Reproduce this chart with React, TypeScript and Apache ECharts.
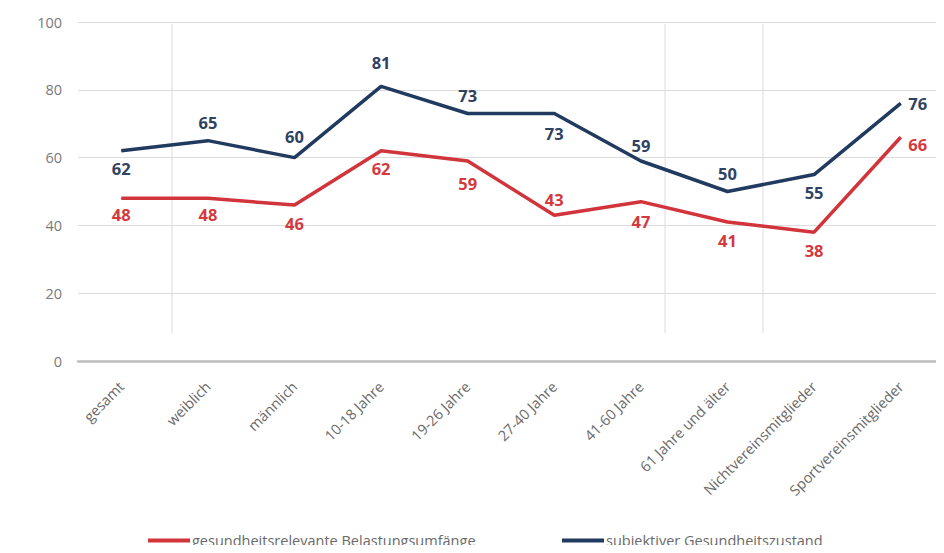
import React, { useEffect, useRef } from "react";
import * as echarts from "echarts";

const categories = [
  "gesamt",
  "weiblich",
  "männlich",
  "10-18 Jahre",
  "19-26 Jahre",
  "27-40 Jahre",
  "41-60 Jahre",
  "61 Jahre und älter",
  "Nichtvereinsmitglieder",
  "Sportvereinsmitglieder",
];
const belastung = [48, 48, 46, 62, 59, 43, 47, 41, 38, 66];
const gesundheit = [62, 65, 60, 81, 73, 73, 59, 50, 55, 76];
const yTicks = [0, 20, 40, 60, 80, 100];
const seriesNames = [
  "gesundheitsrelevante Belastungsumfänge",
  "subjektiver Gesundheitszustand",
];

const RED = "#d1343a";
const NAVY = "#213a5f";
const FONT = "'Open Sans', sans-serif";

// label placement (style, not data)
const redPos = ["bottom", "bottom", "bottom", "bottom", "bottom", "top", "bottom", "bottom", "bottom", "right"];
const navyPos = ["bottom", "top", "top", "top", "top", "bottom", "top", "top", "bottom", "right"];
const redOff = [[0, -2], [0, -2], [0, 0], [0, 0], [0, 5], [0, 2], [0, 2], [0, 0], [0, 0], [0, 7]];
const navyOff = [[0, 0], [0, 0], [0, -3], [0, -6], [0, 0], [0, 2], [0, 3], [0, 0], [0, 0], [0, 0]];

function buildData(values: number[], pos: string[], off: number[][], color: string) {
  return values.map((v, i) => {
    const p = pos[i];
    return {
      value: v,
      label: {
        show: true,
        position: p,
        distance: p === "right" ? 7 : 9,
        offset: off[i],
        color,
        fontWeight: "bold",
        fontSize: 16.5,
        fontFamily: FONT,
      },
    };
  });
}

export default function App() {
  const ref = useRef<HTMLDivElement>(null);
  useEffect(() => {
    if (!ref.current) return;
    const chart = echarts.init(ref.current, null, { renderer: "svg" });
    const redData = buildData(belastung, redPos, redOff, "#d4393e");
    const navyData = buildData(gesundheit, navyPos, navyOff, "#2f4262");
    const legendCommon = {
      top: 533,
      padding: 0,
      itemWidth: 42,
      itemHeight: 4,
      icon: "rect",
      textStyle: { color: "#6a6a6a", fontSize: 14.5, fontFamily: FONT, padding: [0, 0, 0, -3] },
    };
    chart.setOption({
      animation: false,
      backgroundColor: "#ffffff",
      textStyle: { fontFamily: FONT },
      grid: { left: 78, top: 22, width: 873, height: 339, containLabel: false },
      legend: [
        { ...legendCommon, left: 148, data: [seriesNames[0]] },
        { ...legendCommon, left: 562, data: [seriesNames[1]] },
      ],
      xAxis: {
        type: "category",
        data: categories,
        boundaryGap: true,
        axisLine: { show: true, lineStyle: { color: "#bdbdbd", width: 2.5 } },
        axisTick: { show: false },
        axisLabel: {
          rotate: 45,
          margin: 23,
          color: "#6a6a6a",
          fontSize: 14.5,
          fontFamily: FONT,
          interval: 0,
        },
        splitLine: { show: false },
      },
      yAxis: {
        type: "value",
        min: 0,
        max: 100,
        interval: 20,
        axisLine: { show: false },
        axisTick: { show: false },
        axisLabel: {
          margin: 16,
          color: "#7a7a7a",
          fontSize: 14.5,
          fontFamily: FONT,
          formatter: (v: number) => (yTicks.includes(v) ? String(v) : ""),
        },
        splitLine: { lineStyle: { color: "#dcdcdc", width: 1 } },
      },
      graphic: [
        { type: "line", shape: { x1: 172, y1: 24, x2: 172, y2: 333 }, style: { stroke: "#dcdcdc", lineWidth: 1 }, z: 0 },
        { type: "line", shape: { x1: 665, y1: 24, x2: 665, y2: 333 }, style: { stroke: "#dcdcdc", lineWidth: 1 }, z: 0 },
        { type: "line", shape: { x1: 763, y1: 24, x2: 763, y2: 333 }, style: { stroke: "#dcdcdc", lineWidth: 1 }, z: 0 },
      ],
      series: [
        {
          name: seriesNames[0],
          type: "line",
          data: redData,
          symbol: "circle",
          symbolSize: 1,
          showSymbol: true,
          showAllSymbol: true,
          lineStyle: { color: RED, width: 3.5 },
          itemStyle: { color: RED },
          label: { show: true },
          z: 3,
        },
        {
          name: seriesNames[1],
          type: "line",
          data: navyData,
          symbol: "circle",
          symbolSize: 1,
          showSymbol: true,
          showAllSymbol: true,
          lineStyle: { color: NAVY, width: 3.5 },
          itemStyle: { color: NAVY },
          label: { show: true },
          z: 4,
        },
      ],
    });
    return () => chart.dispose();
  }, []);
  return <div ref={ref} style={{ width: 944, height: 553, margin: -8 }} />;
}
